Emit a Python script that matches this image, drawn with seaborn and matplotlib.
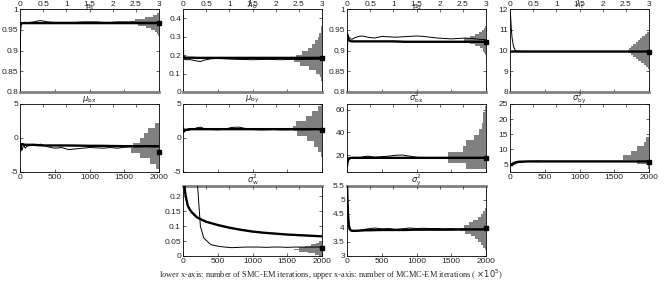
import numpy as np
import matplotlib
matplotlib.use("Agg")
import matplotlib.pyplot as plt
import seaborn as sns
from matplotlib.ticker import FuncFormatter

sns.set_style("ticks")
plt.rcParams["font.family"] = ["Liberation Sans", "DejaVu Sans"]
plt.rcParams["mathtext.fontset"] = "dejavusans"

# ---------------- data ----------------
smc_iter = [0, 10, 20, 30, 50, 75, 100, 150, 200, 250, 300, 400, 500, 600, 700,
            800, 900, 1000, 1100, 1200, 1300, 1400, 1500, 1600, 1700, 1800, 1900, 2000]
mcmc_iter = [0, 0.01, 0.02, 0.04, 0.06, 0.1, 0.15, 0.2, 0.3, 0.4, 0.5, 0.75, 1.0,
             1.25, 1.5, 1.75, 2.0, 2.25, 2.5, 2.75, 3.0]
upper_ticks = [0, 0.5, 1, 1.5, 2, 2.5, 3]
lower_ticks = [0, 500, 1000, 1500, 2000]

titles = [r"p$_{\rm s}$", r"$\lambda_{\rm b}$", r"p$_{\rm d}$", r"$\lambda_{\rm f}$",
          r"$\mu_{\rm bx}$", r"$\mu_{\rm by}$", r"$\sigma^2_{\rm bx}$", r"$\sigma^2_{\rm by}$",
          r"$\sigma^2_{\rm w}$", r"$\sigma^2_{\rm y}$"]

# p_s
ps_smc = [0.87, 0.95, 0.962, 0.965, 0.967, 0.968, 0.967, 0.968, 0.969, 0.971, 0.972, 0.969, 0.968,
          0.968, 0.968, 0.968, 0.969, 0.969, 0.969, 0.968, 0.968, 0.969, 0.969, 0.969, 0.968,
          0.968, 0.968, 0.968]
ps_mcmc = [0.964, 0.965, 0.966, 0.966, 0.966, 0.966, 0.966, 0.966, 0.966, 0.966, 0.966, 0.966,
           0.966, 0.966, 0.966, 0.966, 0.966, 0.966, 0.966, 0.966, 0.966]
ps_final = 0.967
ps_edges = [0.935, 0.94, 0.945, 0.95, 0.955, 0.96, 0.965, 0.97, 0.975, 0.98, 0.985, 0.99]
ps_counts = [3, 8, 15, 28, 48, 75, 100, 85, 50, 22, 8]

# lambda_b
lb_smc = [0.42, 0.19, 0.178, 0.175, 0.176, 0.175, 0.176, 0.172, 0.168, 0.165, 0.172, 0.18, 0.182,
          0.18, 0.178, 0.177, 0.176, 0.175, 0.176, 0.177, 0.176, 0.175, 0.176, 0.177, 0.176,
          0.177, 0.177, 0.178]
lb_mcmc = [0.195, 0.19, 0.188, 0.187, 0.186, 0.186, 0.186, 0.186, 0.185, 0.185, 0.185, 0.185,
           0.185, 0.185, 0.185, 0.185, 0.185, 0.185, 0.185, 0.185, 0.185]
lb_final = 0.185
lb_edges = [0.06, 0.08, 0.10, 0.12, 0.14, 0.16, 0.18, 0.20, 0.22, 0.24, 0.26, 0.28, 0.30,
            0.32, 0.34, 0.36]
lb_counts = [3, 8, 20, 45, 80, 100, 92, 72, 52, 36, 24, 15, 9, 5, 2]

# p_d
pd_smc = [0.80, 0.925, 0.935, 0.932, 0.928, 0.927, 0.93, 0.933, 0.935, 0.934, 0.932, 0.93, 0.934,
          0.933, 0.932, 0.933, 0.934, 0.935, 0.934, 0.932, 0.93, 0.929, 0.928, 0.929, 0.93,
          0.929, 0.927, 0.926]
pd_mcmc = [0.94, 0.938, 0.93, 0.925, 0.923, 0.922, 0.922, 0.922, 0.922, 0.922, 0.922, 0.922,
           0.922, 0.921, 0.921, 0.921, 0.921, 0.921, 0.921, 0.921, 0.921]
pd_final = 0.921
pd_edges = [0.89, 0.895, 0.90, 0.905, 0.91, 0.915, 0.92, 0.925, 0.93, 0.935, 0.94, 0.945,
            0.95, 0.955, 0.96]
pd_counts = [3, 6, 12, 22, 38, 58, 80, 78, 58, 38, 24, 14, 7, 3]

# lambda_f
lf_smc = [12.0, 11.6, 11.0, 10.6, 10.2, 10.0, 9.97, 9.96, 9.95, 9.95, 9.95, 9.95, 9.95, 9.95,
          9.95, 9.95, 9.95, 9.95, 9.95, 9.95, 9.95, 9.95, 9.95, 9.95, 9.95, 9.95, 9.95, 9.95]
lf_mcmc = [9.96, 9.95, 9.95, 9.95, 9.95, 9.95, 9.95, 9.95, 9.95, 9.95, 9.95, 9.95, 9.95, 9.95,
           9.95, 9.95, 9.95, 9.95, 9.95, 9.95, 9.95]
lf_final = 9.95
lf_edges = [9.1, 9.2, 9.3, 9.4, 9.5, 9.6, 9.7, 9.8, 9.9, 10.0, 10.1, 10.2, 10.3, 10.4, 10.5,
            10.6, 10.7, 10.8, 10.9]
lf_counts = [4, 10, 19, 28, 38, 47, 57, 66, 75, 72, 64, 56, 48, 40, 32, 24, 16, 8]

# mu_bx
mbx_smc = [0.0, -2.0, -1.2, -1.8, -1.0, -1.5, -1.2, -1.1, -1.0, -1.1, -0.9, -1.3, -1.5, -1.4,
           -1.7, -1.6, -1.5, -1.4, -1.45, -1.5, -1.4, -1.5, -1.35, -1.3, -1.3, -1.25, -1.3, -1.3]
mbx_mcmc = [-1.5, -1.2, -1.0, -0.9, -0.9, -1.0, -1.0, -1.0, -1.0, -1.05, -1.1, -1.1, -1.1,
            -1.12, -1.15, -1.15, -1.18, -1.2, -1.2, -1.2, -1.2]
mbx_final = -2.0
mbx_edges = [-4.5, -3.75, -3.0, -2.25, -1.5, -0.75, 0.0, 0.75, 1.5, 2.25]
mbx_counts = [10, 34, 69, 100, 95, 70, 55, 38, 16]

# mu_by
mby_smc = [0.8, 1.5, 0.9, 1.2, 1.1, 1.15, 1.2, 1.3, 1.5, 1.6, 1.4, 1.25, 1.2, 1.3, 1.55, 1.6,
           1.4, 1.25, 1.2, 1.2, 1.25, 1.2, 1.2, 1.25, 1.2, 1.2, 1.25, 1.2]
mby_mcmc = [1.4, 1.2, 1.0, 1.1, 1.2, 1.25, 1.3, 1.3, 1.3, 1.3, 1.3, 1.3, 1.3, 1.3, 1.3, 1.3,
            1.3, 1.3, 1.3, 1.3, 1.3]
mby_final = 1.2
mby_edges = [-2.75, -2.0, -1.25, -0.5, 0.25, 1.0, 1.75, 2.5, 3.25, 4.0, 4.75, 5.5]
mby_counts = [5, 15, 30, 53, 89, 105, 95, 56, 36, 15, 5]

# sigma^2_bx
sbx_smc = [12, 18, 14, 16, 17, 17.5, 18, 17.5, 18, 18.5, 19, 18, 18.5, 19, 19.8, 20, 19, 18,
           17.5, 17.5, 17.6, 17.5, 17.5, 17.5, 17.4, 17.5, 17.4, 17.5]
sbx_mcmc = [10, 14, 16, 17, 17.3, 17.5, 17.5, 17.5, 17.5, 17.5, 17.5, 17.5, 17.5, 17.5, 17.5,
            17.5, 17.5, 17.5, 17.5, 17.5, 17.5]
sbx_final = 17.0
sbx_edges = [8, 13, 18, 23, 28, 33, 38, 43, 48, 53, 58, 63]
sbx_counts = [71, 137, 137, 83, 71, 42, 24, 15, 12, 10, 5]

# sigma^2_by
sby_smc = [6.5, 4.5, 4.8, 4.5, 5.0, 5.2, 5.5, 5.7, 5.9, 6.0, 6.0, 6.1, 6.0, 6.0, 6.0, 6.0, 6.0,
           6.0, 6.0, 6.0, 6.0, 6.0, 6.0, 6.0, 6.0, 6.0, 6.0, 6.0]
sby_mcmc = [4.5, 4.7, 4.9, 5.1, 5.3, 5.6, 5.8, 5.9, 5.95, 6.0, 6.0, 6.0, 6.0, 6.0, 6.0, 6.0,
            6.0, 6.0, 6.0, 6.0, 6.0]
sby_final = 5.8
sby_edges = [3.5, 5.0, 6.5, 8.0, 9.5, 11.0, 12.5, 14.0]
sby_counts = [5, 42, 95, 65, 42, 18, 12]

# sigma^2_w
sw_smc = [0.5, 0.5, 0.5, 0.5, 0.5, 0.5, 0.5, 0.5, 0.27, 0.1, 0.06, 0.038, 0.033, 0.03, 0.028,
          0.029, 0.03, 0.03, 0.03, 0.029, 0.03, 0.03, 0.029, 0.03, 0.03, 0.03, 0.03, 0.03]
sw_mcmc = [0.5, 0.35, 0.27, 0.22, 0.2, 0.17, 0.155, 0.145, 0.13, 0.122, 0.115, 0.104, 0.095,
           0.088, 0.082, 0.078, 0.075, 0.072, 0.07, 0.068, 0.066]
sw_final = 0.028
sw_edges = [0.0, 0.005, 0.01, 0.015, 0.02, 0.025, 0.03, 0.035, 0.04, 0.045, 0.05]
sw_counts = [12, 25, 50, 82, 101, 82, 60, 40, 22, 10]

# sigma^2_y
sy_smc = [5.6, 4.8, 4.3, 4.1, 3.95, 3.9, 3.9, 3.9, 3.92, 3.95, 3.97, 4.0, 3.97, 3.98, 3.95,
          3.97, 4.0, 3.98, 3.99, 3.98, 3.98, 3.97, 3.98, 3.96, 3.96, 3.95, 3.95, 3.95]
sy_mcmc = [5.6, 5.0, 4.5, 4.1, 3.95, 3.9, 3.9, 3.9, 3.91, 3.92, 3.92, 3.93, 3.93, 3.93, 3.94,
           3.94, 3.94, 3.94, 3.95, 3.95, 3.95]
sy_final = 4.0
sy_edges = [3.2, 3.3, 3.4, 3.5, 3.6, 3.7, 3.8, 3.9, 4.0, 4.1, 4.2, 4.3, 4.4, 4.5, 4.6, 4.7]
sy_counts = [5, 10, 18, 28, 40, 55, 75, 92, 80, 62, 45, 30, 18, 10, 4]

ylims = [(0.8, 1.0), (0, 0.45), (0.8, 1.0), (8, 12),
         (-5, 5), (-5, 5), (5, 65), (2.5, 25),
         (0, 0.235), (3, 5.5)]
yticks = [[0.8, 0.85, 0.9, 0.95, 1], [0, 0.1, 0.2, 0.3, 0.4], [0.8, 0.85, 0.9, 0.95, 1],
          [8, 9, 10, 11, 12], [-5, 0, 5], [-5, 0, 5], [20, 40, 60], [5, 10, 15, 20, 25],
          [0, 0.05, 0.1, 0.15, 0.2], [3, 3.5, 4, 4.5, 5, 5.5]]

panels = [
    (ps_smc, ps_mcmc, ps_final, ps_edges, ps_counts),
    (lb_smc, lb_mcmc, lb_final, lb_edges, lb_counts),
    (pd_smc, pd_mcmc, pd_final, pd_edges, pd_counts),
    (lf_smc, lf_mcmc, lf_final, lf_edges, lf_counts),
    (mbx_smc, mbx_mcmc, mbx_final, mbx_edges, mbx_counts),
    (mby_smc, mby_mcmc, mby_final, mby_edges, mby_counts),
    (sbx_smc, sbx_mcmc, sbx_final, sbx_edges, sbx_counts),
    (sby_smc, sby_mcmc, sby_final, sby_edges, sby_counts),
    (sw_smc, sw_mcmc, sw_final, sw_edges, sw_counts),
    (sy_smc, sy_mcmc, sy_final, sy_edges, sy_counts),
]

# ---------------- layout ----------------
W, H = 667, 282
fig = plt.figure(figsize=(W / 100, H / 100), dpi=100)
col_left = [20, 183, 347, 510]
col_w = 139
rows = [(9, 92), (104, 172), (186, 256)]
grid = [(0, 0), (0, 1), (0, 2), (0, 3), (1, 0), (1, 1), (1, 2), (1, 3), (2, 1), (2, 2)]
bottom_labels = {4, 7, 8, 9}
HIST_SCALE = 4.0
GRAY = "#808080"
FS = 6
fmt = FuncFormatter(lambda v, p: f"{v:g}")

for i, (r, c) in enumerate(grid):
    top_px, bot_px = rows[r]
    ax = fig.add_axes([col_left[c] / W, 1 - bot_px / H, col_w / W, (bot_px - top_px) / H])
    smc, mcmc, final, edges, counts = panels[i]
    edges = np.asarray(edges)
    counts = np.asarray(counts, dtype=float)
    ax.barh(edges[:-1], -counts * HIST_SCALE, height=np.diff(edges), left=2000,
            align="edge", color=GRAY, linewidth=0, zorder=1)
    sns.lineplot(x=smc_iter, y=smc, ax=ax, color="k", linewidth=0.7, zorder=3)
    ax.set_xlim(0, 2000)
    ax.set_ylim(*ylims[i])
    ax.set_yticks(yticks[i])
    ax.yaxis.set_major_formatter(fmt)
    ax.set_xticks(lower_ticks)
    ax.xaxis.set_major_formatter(fmt)
    ax.tick_params(direction="in", length=2, width=0.5, labelsize=FS, pad=1.5,
                   right=True, top=False)
    if i not in bottom_labels:
        ax.tick_params(axis="x", labelbottom=False)
    ax.set_xlabel("")
    ax.set_ylabel("")
    for s in ax.spines.values():
        s.set_linewidth(0.6)
        s.set_color("k")
    if r == 0:
        ax.spines["bottom"].set_color(GRAY)
        ax.spines["bottom"].set_linewidth(2)
    if r == 2:
        ax.spines["top"].set_color(GRAY)
        ax.spines["top"].set_linewidth(2)

    ax2 = ax.twiny()
    sns.lineplot(x=mcmc_iter, y=mcmc, ax=ax2, color="k", linewidth=1.7, zorder=4)
    ax2.plot([3.0], [final], marker="s", color="k", markersize=2.8, linestyle="none",
             clip_on=False, zorder=5)
    ax2.set_xlim(0, 3)
    ax2.set_ylim(*ylims[i])
    ax2.set_xticks(upper_ticks)
    ax2.xaxis.set_major_formatter(fmt)
    ax2.tick_params(direction="in", length=2, width=0.5, labelsize=FS, pad=1.0)
    if r != 0:
        ax2.tick_params(axis="x", labeltop=False)
    ax2.set_xlabel("")
    ax2.set_ylabel("")
    for s in ax2.spines.values():
        s.set_visible(False)

    off = 1.0 if r == 0 else 2.2
    ax.annotate(titles[i], xy=(0.5, 1.0), xycoords="axes fraction", xytext=(0, off),
                textcoords="offset points", ha="center", va="baseline", fontsize=6)

fig.text(0.496, 0.025,
         r"lower x-axis: number of SMC-EM iterations, upper x-axis: number of MCMC-EM iterations ( $\times10^5$)",
         ha="center", va="center", fontsize=6, family=["Liberation Serif", "DejaVu Serif"])

fig.savefig("out.png", dpi=100)
